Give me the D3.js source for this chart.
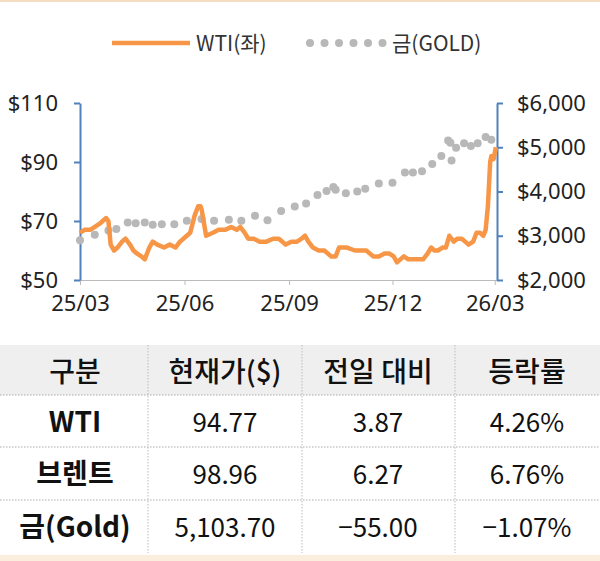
<!DOCTYPE html><html><head><meta charset="utf-8"><script src="https://cdn.jsdelivr.net/npm/d3@7"></script>
<style>body{margin:0;background:#fff}svg{display:block;font-family:"Noto Sans CJK KR","Noto Sans",sans-serif}</style></head><body><svg id="c" width="600" height="561"></svg>
<script>
const wtiDates=["2025-03-01","2025-03-05","2025-03-10","2025-03-14","2025-03-18","2025-03-21","2025-03-24","2025-03-26","2025-03-28","2025-03-31","2025-04-03","2025-04-07","2025-04-10","2025-04-14","2025-04-17","2025-04-20","2025-04-24","2025-04-27","2025-05-01","2025-05-04","2025-05-08","2025-05-14","2025-05-19","2025-05-24","2025-05-28","2025-05-31","2025-06-03","2025-06-06","2025-06-10","2025-06-13","2025-06-15","2025-06-16","2025-06-20","2025-06-26","2025-07-01","2025-07-07","2025-07-12","2025-07-17","2025-07-20","2025-07-24","2025-07-27","2025-08-01","2025-08-06","2025-08-12","2025-08-18","2025-08-23","2025-08-29","2025-09-03","2025-09-08","2025-09-12","2025-09-15","2025-09-18","2025-09-22","2025-09-27","2025-10-02","2025-10-08","2025-10-12","2025-10-15","2025-10-22","2025-10-29","2025-11-03","2025-11-08","2025-11-14","2025-11-19","2025-11-24","2025-11-28","2025-12-02","2025-12-05","2025-12-08","2025-12-11","2025-12-15","2025-12-18","2025-12-23","2025-12-28","2026-01-01","2026-01-04","2026-01-07","2026-01-10","2026-01-14","2026-01-17","2026-01-20","2026-01-24","2026-01-27","2026-01-31","2026-02-03","2026-02-06","2026-02-10","2026-02-13","2026-02-16","2026-02-19","2026-02-21","2026-02-23","2026-02-25","2026-02-26","2026-02-28","2026-03-02"];
const wtiValues=[66,67,67,68,69,70,71,70,62,60,61,63,64,62,60,59,58,57,61,63,62,61,62,61,63,64,65,66,72,75,75,74,65,66,67,67,68,67,68,66,64,64,63,63,64,64,62,63,63,64,65,63,61,60,60,58,58,61,61,60,60,60,58,58,59,59,58,56,57,58,57,57,57,57,59,61,60,60,61,61,65,63,64,64,63,62,63,66,66,65,67,75,90,92,91,95];
const goldDates=["2025-03-01","2025-03-14","2025-03-26","2025-04-02","2025-04-12","2025-04-19","2025-04-27","2025-05-04","2025-05-12","2025-05-23","2025-06-03","2025-06-16","2025-06-27","2025-07-10","2025-07-21","2025-08-02","2025-08-13","2025-08-25","2025-09-06","2025-09-16","2025-09-26","2025-10-04","2025-10-10","2025-10-12","2025-10-21","2025-10-31","2025-11-07","2025-11-19","2025-12-01","2025-12-12","2025-12-19","2025-12-27","2026-01-05","2026-01-13","2026-01-19","2026-01-21","2026-01-22","2026-01-26","2026-02-02","2026-02-08","2026-02-14","2026-02-21","2026-02-26"];
const goldValues=[2900,3020,3120,3150,3300,3280,3300,3250,3260,3260,3340,3380,3340,3360,3340,3450,3350,3560,3660,3730,3920,4010,4100,4040,3960,4000,4060,4180,4200,4430,4430,4460,4620,4800,5150,5100,4700,4990,5090,5030,5090,5230,5170];
const xTicks=["2025-03-01","2025-06-01","2025-09-01","2025-12-01","2026-03-01"];
const leftTicks=[50,70,90,110], rightTicks=[2000,3000,4000,5000,6000];
const tableHead=["구분","현재가($)","전일 대비","등락률"];
const tableRows=[["WTI","94.77","3.87","4.26%"],["브렌트","98.96","6.27","6.76%"],["금(Gold)","5,103.70","-55.00","-1.07%"]];

const P=d3.timeParse("%Y-%m-%d"), svg=d3.select("#c");
const L=80,R=497,T=103,B=280;
const x=d3.scaleTime().domain([P("2025-03-01"),P("2026-03-03")]).range([L,R]);
const yl=d3.scaleLinear().domain([50,110]).range([B,T]);
const yr=d3.scaleLinear().domain([2000,6000]).range([B,T]);
svg.append("rect").attr("width",600).attr("height",2).attr("fill","#f6dcc0");
svg.append("rect").attr("y",555).attr("width",600).attr("height",6).attr("fill","#fbeedd");
// legend
svg.append("line").attr("x1",112).attr("x2",190).attr("y1",43).attr("y2",43).attr("stroke","#f79646").attr("stroke-width",4.5);
svg.append("text").attr("x",196).attr("y",51).attr("font-size",21).attr("fill","#333").text("WTI(좌)");
d3.range(6).forEach(i=>svg.append("circle").attr("cx",310+i*14.5).attr("cy",43).attr("r",4).attr("fill","#b8b8b8"));
svg.append("text").attr("x",392).attr("y",51).attr("font-size",21).attr("fill","#333").text("금(GOLD)");
// axes
const ax=svg.append("g").attr("transform",`translate(0,${B})`).call(d3.axisBottom(x).tickValues(xTicks.map(P)).tickFormat(d3.timeFormat("%y/%m")).tickSize(5).tickSizeOuter(0));
ax.select(".domain").attr("stroke","#bbb");ax.selectAll("line").attr("stroke","#bbb");
ax.selectAll("text").attr("font-size",22).attr("fill","#222").attr("dy","1.05em").attr("font-family","Noto Sans");
const al=svg.append("g").attr("transform",`translate(${L},0)`).call(d3.axisLeft(yl).tickValues(leftTicks).tickFormat(d=>"$"+d).tickSize(6).tickSizeOuter(0));
const ar=svg.append("g").attr("transform",`translate(${R},0)`).call(d3.axisRight(yr).tickValues(rightTicks).tickFormat(d=>"$"+d3.format(",")(d)).tickSize(6).tickSizeOuter(0));
[al,ar].forEach(a=>{a.select(".domain").attr("stroke","#4f81bd").attr("stroke-width",2);a.selectAll("line").attr("stroke","#4f81bd").attr("stroke-width",2);
a.selectAll("text").attr("font-size",22).attr("fill","#222").attr("font-family","Noto Sans");});
al.selectAll("text").attr("x",-22);ar.selectAll("text").attr("x",20);
// gold
svg.append("g").selectAll("circle").data(goldDates.map((d,i)=>[P(d),goldValues[i]])).join("circle")
 .attr("cx",d=>x(d[0])).attr("cy",d=>yr(d[1])).attr("r",4).attr("fill","#b8b8b8");
// wti
svg.append("path").datum(wtiDates.map((d,i)=>[P(d),wtiValues[i]])).attr("fill","none").attr("stroke","#f79646").attr("stroke-width",4.5).attr("stroke-linejoin","round")
 .attr("d",d3.line().x(d=>x(d[0])).y(d=>yl(d[1])));
// table
const cx=[75,225,378,527], sep=[148,302,455], rowY=[345,395,447,500,553];
svg.append("rect").attr("x",0).attr("y",rowY[0]).attr("width",600).attr("height",rowY[1]-rowY[0]).attr("fill","#efefef");
rowY.slice(1,4).forEach(y=>svg.append("line").attr("x1",0).attr("x2",600).attr("y1",y).attr("y2",y).attr("stroke","#aaa").attr("stroke-dasharray","1.5,1.5"));
sep.forEach(s=>svg.append("line").attr("x1",s).attr("x2",s).attr("y1",rowY[0]).attr("y2",rowY[4]).attr("stroke","#bbb").attr("stroke-dasharray","1.5,1.5"));
tableHead.forEach((t,i)=>svg.append("text").attr("x",cx[i]).attr("y",382).attr("text-anchor","middle").attr("font-size",28).attr("font-weight",500).attr("fill","#111").text(t));
tableRows.forEach((r,j)=>r.forEach((t,i)=>svg.append("text").attr("x",cx[i]).attr("y",rowY[j+1]+37).attr("text-anchor","middle").attr("font-size",i==0?28:26).attr("font-weight",i==0?700:400).attr("fill","#111").text(t.replace("-","−"))));
</script></body></html>
